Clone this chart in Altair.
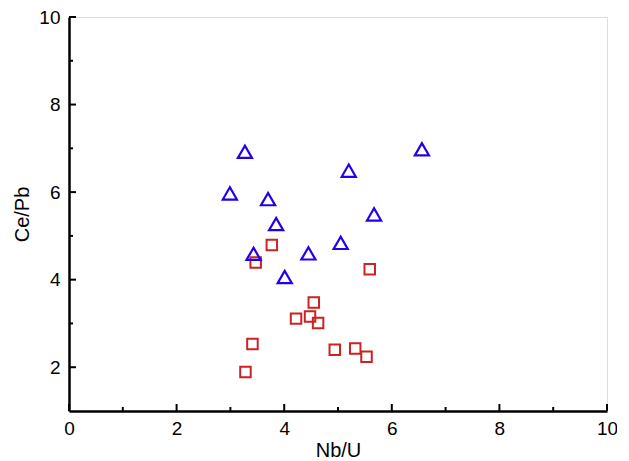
import altair as alt
import pandas as pd

# Blue triangles
tri_x = [3.27, 2.99, 3.70, 3.85, 3.43, 4.01, 4.45, 5.20, 5.05, 5.67, 6.56]
tri_y = [6.92, 5.97, 5.84, 5.27, 4.59, 4.06, 4.60, 6.49, 4.84, 5.49, 6.98]
# Red squares
sq_x = [3.77, 3.47, 3.41, 3.28, 4.22, 4.48, 4.55, 4.63, 4.94, 5.32, 5.53, 5.59]
sq_y = [4.79, 4.39, 2.53, 1.89, 3.11, 3.16, 3.48, 3.01, 2.40, 2.43, 2.24, 4.24]

x_major = [0, 2, 4, 6, 8, 10]
x_minor = [1, 3, 5, 7, 9]
y_major = [2, 4, 6, 8, 10]
y_minor = [3, 5, 7, 9]

W, H = 538, 394
FONT = "Liberation Sans"

tri = pd.DataFrame({"x": tri_x, "y": tri_y})
sq = pd.DataFrame({"x": sq_x, "y": sq_y})

xs = alt.Scale(domain=[0, 10], nice=False)
ys = alt.Scale(domain=[1, 10], nice=False)

xax = alt.Axis(values=x_major, format="d", title="Nb/U", grid=False, ticks=False,
               domainColor="black", domainWidth=2.5, labelFont=FONT, labelFontSize=19,
               labelColor="black", labelPadding=8, labelFlush=False, labelOverlap=False,
               titleFont=FONT, titleFontSize=20,
               titleFontWeight="normal", titleColor="black", titlePadding=2)
yax = alt.Axis(values=y_major, format="d", title="Ce/Pb", grid=False, ticks=False,
               domainColor="black", domainWidth=2.5, labelFont=FONT, labelFontSize=19,
               labelColor="black", labelPadding=9, labelFlush=False, labelOverlap=False,
               titleFont=FONT, titleFontSize=20,
               titleFontWeight="normal", titleColor="black", titlePadding=6)

base_pts = alt.Chart(tri).mark_point(shape="triangle-up", size=200, filled=False,
                                     color="#2200ee", strokeWidth=2.2, opacity=1).encode(
    x=alt.X("x:Q", scale=xs, axis=xax),
    y=alt.Y("y:Q", scale=ys, axis=yax),
)
sq_pts = alt.Chart(sq).mark_point(shape="square", size=110, filled=False,
                                  color="#cc2222", strokeWidth=2, opacity=1).encode(
    x=alt.X("x:Q", scale=xs),
    y=alt.Y("y:Q", scale=ys),
)

def xticks(vals, length):
    return alt.Chart(pd.DataFrame({"v": vals})).mark_rule(color="black", strokeWidth=2).encode(
        x=alt.X("v:Q", scale=xs),
        y=alt.value(H),
        y2=alt.value(H - length),
    )

def yticks(vals, length):
    return alt.Chart(pd.DataFrame({"v": vals})).mark_rule(color="black", strokeWidth=2).encode(
        y=alt.Y("v:Q", scale=ys),
        x=alt.value(0),
        x2=alt.value(length),
    )

chart = alt.layer(
    xticks(x_major, 7), xticks(x_minor, 4), yticks(y_major, 7), yticks(y_minor, 4),
    sq_pts, base_pts,
).properties(
    width=W, height=H,
    autosize=alt.AutoSizeParams(type="none"),
    padding={"left": 61, "top": 9, "right": 10, "bottom": 50},
).configure_view(stroke="black", strokeWidth=2.5).configure(background="white")

chart.save("out.html", embed_options={"renderer": "svg", "actions": False})
